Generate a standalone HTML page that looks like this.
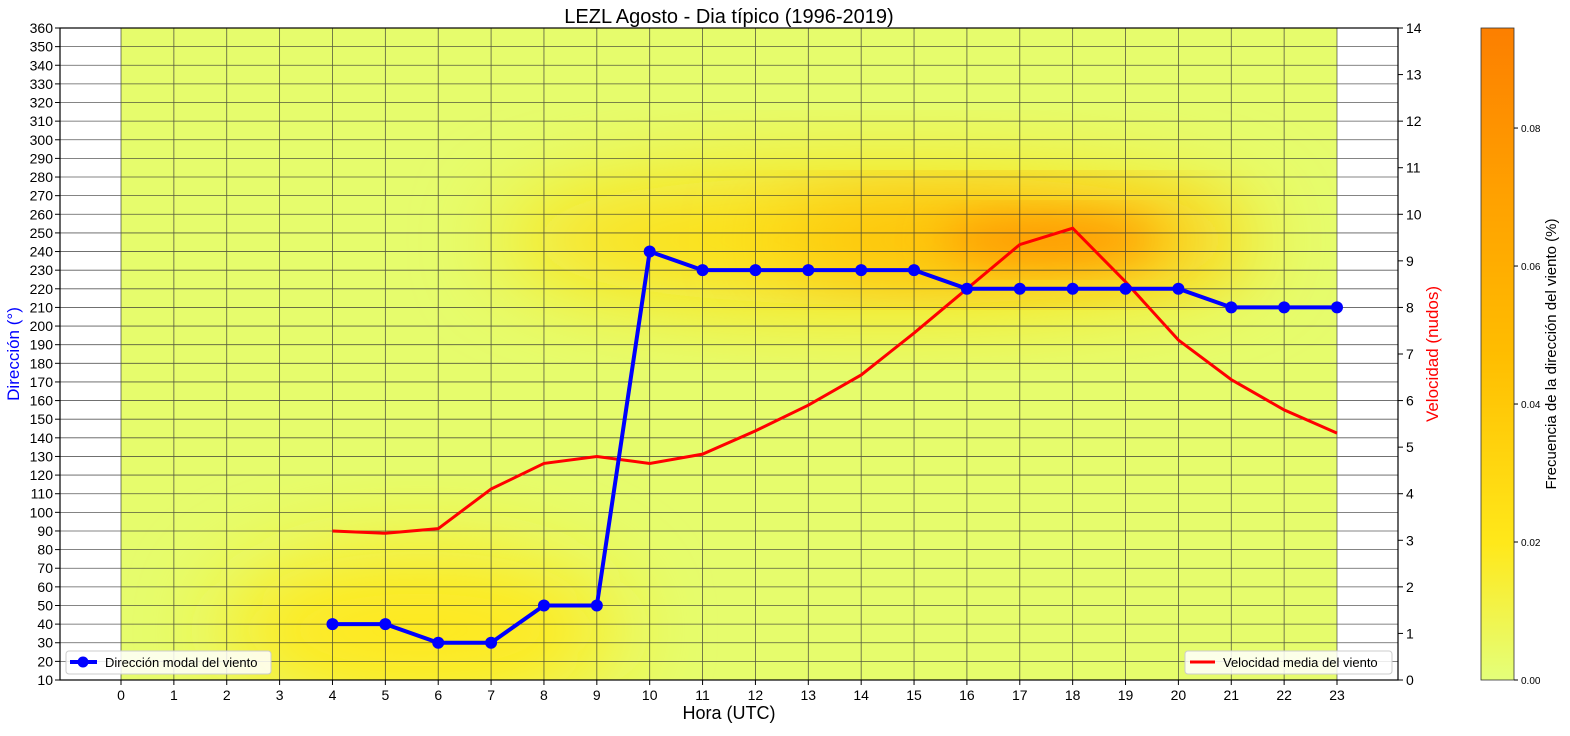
<!DOCTYPE html>
<html><head><meta charset="utf-8"><style>
body{margin:0;background:#fff;font-family:"Liberation Sans","DejaVu Sans",sans-serif}
</style></head><body>
<svg id="chart" width="1570" height="731" xmlns="http://www.w3.org/2000/svg" font-family="Liberation Sans, DejaVu Sans, sans-serif">
<defs>
<filter id="blur1" x="-50%" y="-50%" width="200%" height="200%"><feGaussianBlur stdDeviation="45"/></filter>
<filter id="blur2" x="-50%" y="-50%" width="200%" height="200%"><feGaussianBlur stdDeviation="22"/></filter>
<clipPath id="heatclip"><rect x="121" y="28" width="1216" height="652"/></clipPath>
<linearGradient id="cbar" x1="0" y1="1" x2="0" y2="0">
<stop offset="0" stop-color="#e4ff7a"/><stop offset="0.21" stop-color="#ffe81a"/><stop offset="0.5" stop-color="#ffbd00"/><stop offset="0.75" stop-color="#ffa000"/><stop offset="1" stop-color="#fc7f00"/>
</linearGradient>
</defs>
<text x="729" y="23" text-anchor="middle" font-size="20">LEZL Agosto - Dia típico (1996-2019)</text>
<g id="heat" clip-path="url(#heatclip)">
<rect x="121" y="28" width="1216" height="652" fill="#e6fc6c"/>
<ellipse cx="420" cy="630" rx="200" ry="80" fill="#ffe81a" filter="url(#blur1)"/>
<ellipse cx="880" cy="240" rx="380" ry="65" fill="#ffdd10" filter="url(#blur1)"/>
<ellipse cx="1000" cy="240" rx="230" ry="35" fill="#ffb000" filter="url(#blur1)"/>
<ellipse cx="1050" cy="240" rx="110" ry="20" fill="#ff9000" filter="url(#blur2)"/>
</g>
<g id="grid" stroke="#333" stroke-width="0.8" opacity="0.8"></g>
<rect x="60" y="28" width="1338" height="652" fill="none" stroke="#000" stroke-width="1.2"/>
<g id="xt" font-size="14"></g>
<g id="yl" font-size="14"></g>
<g id="yr" font-size="14"></g>
<text x="729" y="719" text-anchor="middle" font-size="18">Hora (UTC)</text>
<text transform="translate(19,354) rotate(-90)" text-anchor="middle" font-size="17" fill="#0000ff">Dirección  (°)</text>
<text transform="translate(1438,354) rotate(-90)" text-anchor="middle" font-size="17" fill="#ff0000">Velocidad (nudos)</text>
<g id="series"></g>
<g>
<rect x="66" y="651" width="205" height="23" rx="3" fill="#fff" fill-opacity="0.85" stroke="#ccc"/>
<line x1="70" y1="662" x2="97" y2="662" stroke="#0000ff" stroke-width="4"/>
<circle cx="83" cy="662" r="5.5" fill="#0000ff"/>
<text x="105" y="667" font-size="13">Dirección modal del viento</text>
</g>
<g>
<rect x="1185" y="651" width="207" height="23" rx="3" fill="#fff" fill-opacity="0.85" stroke="#ccc"/>
<line x1="1190" y1="662" x2="1215" y2="662" stroke="#ff0000" stroke-width="3"/>
<text x="1223" y="667" font-size="13">Velocidad media del viento</text>
</g>
<rect x="1481" y="28" width="33" height="652" fill="url(#cbar)" stroke="#333" stroke-width="0.8"/>
<g id="cb" font-size="10"></g>
<text transform="translate(1556,354) rotate(-90)" text-anchor="middle" font-size="15">Frecuencia de la dirección del viento (%)</text>
</svg>
<script>
const hours = [4,5,6,7,8,9,10,11,12,13,14,15,16,17,18,19,20,21,22,23];
const direction = [40,40,30,30,50,50,240,230,230,230,230,230,220,220,220,220,220,210,210,210];
const speed = [3.2,3.15,3.25,4.1,4.65,4.8,4.65,4.85,5.35,5.9,6.55,7.45,8.4,9.35,9.7,8.55,7.3,6.45,5.8,5.3];
const xTicks = [0,1,2,3,4,5,6,7,8,9,10,11,12,13,14,15,16,17,18,19,20,21,22,23];
const cbTicks = ["0.00","0.02","0.04","0.06","0.08"];

const NS="http://www.w3.org/2000/svg";
const X=h=>121+h*(1216/23);
const YL=d=>680-(d-10)*(652/350);
const YR=v=>680-v*(652/14);
function mk(tag,attrs,parent,text){const e=document.createElementNS(NS,tag);for(const k in attrs)e.setAttribute(k,attrs[k]);if(text!==undefined)e.textContent=text;parent.appendChild(e);return e;}
const grid=document.getElementById('grid'),xt=document.getElementById('xt'),yl=document.getElementById('yl'),yr=document.getElementById('yr'),cb=document.getElementById('cb'),ser=document.getElementById('series');
xTicks.forEach(h=>{
 const l=mk('line',{x1:X(h),x2:X(h),y1:28,y2:680},grid);
 
 
 mk('line',{x1:X(h),x2:X(h),y1:680,y2:685,stroke:'#000'},xt);
 const t=mk('text',{x:X(h),y:700,'text-anchor':'middle'},xt,String(h));
 
 
});
for(let d=10;d<=360;d+=10){
 if(d>10&&d<360){const l=mk('line',{x1:60,x2:1398,y1:YL(d),y2:YL(d)},grid);
 
 }
 mk('line',{x1:55,x2:60,y1:YL(d),y2:YL(d),stroke:'#000'},yl);
 const t=mk('text',{x:53,y:YL(d)+5,'text-anchor':'end'},yl,String(d));
 
 
}
for(let v=0;v<=14;v++){
 mk('line',{x1:1398,x2:1403,y1:YR(v),y2:YR(v),stroke:'#000'},yr);
 const t=mk('text',{x:1406,y:YR(v)+5},yr,String(v));
 
 
}
cbTicks.forEach(s=>{const y=680-parseFloat(s)*(652/0.0945);
 mk('line',{x1:1514,x2:1518,y1:y,y2:y,stroke:'#000'},cb);
 const t=mk('text',{x:1521,y:y+4},cb,s);
 
 
});
const sp=mk('polyline',{points:hours.map((h,i)=>X(h)+','+YR(speed[i])).join(' '),fill:'none',stroke:'#ff0000','stroke-width':3},ser);


const dl=mk('polyline',{points:hours.map((h,i)=>X(h)+','+YL(direction[i])).join(' '),fill:'none',stroke:'#0000ff','stroke-width':4},ser);


hours.forEach((h,i)=>{const c=mk('circle',{cx:X(h),cy:YL(direction[i]),r:6,fill:'#0000ff'},ser);
 
 });
</script>
</body></html>
